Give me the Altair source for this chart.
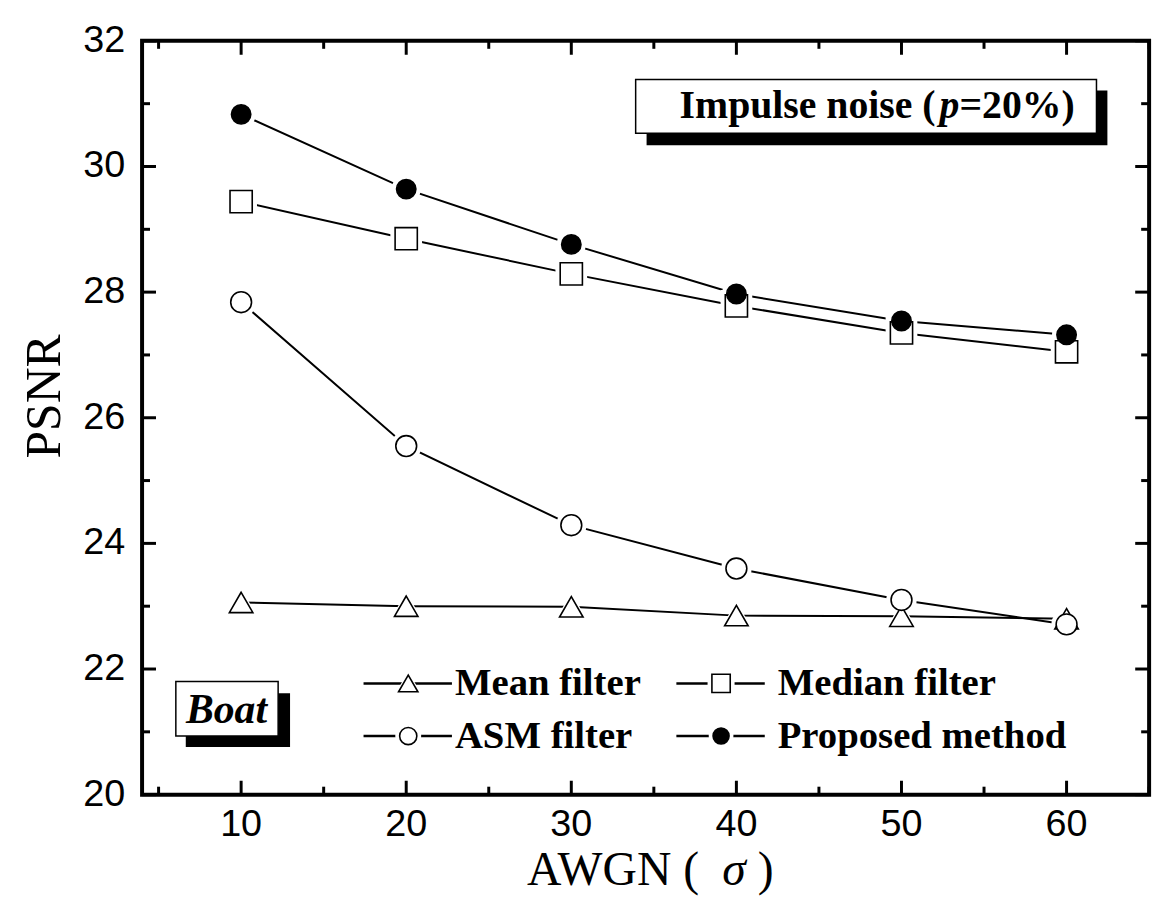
import altair as alt
import pandas as pd

# ---------------- data ----------------
sigma = [10, 20, 30, 40, 50, 60]
series = ["Mean filter", "Median filter", "ASM filter", "Proposed method"]
mean_psnr = [23.06, 23.00, 22.99, 22.85, 22.84, 22.80]
median_psnr = [29.44, 28.85, 28.29, 27.78, 27.35, 27.05]
asm_psnr = [27.84, 25.55, 24.29, 23.60, 23.10, 22.71]
proposed_psnr = [30.83, 29.64, 28.76, 27.97, 27.54, 27.32]

x_major = [10, 20, 30, 40, 50, 60]
x_minor = [5, 15, 25, 35, 45, 55, 65]
y_major = [20, 22, 24, 26, 28, 30, 32]
y_minor = [21, 23, 25, 27, 29, 31]

# ---------------- layout constants ----------------
W, H = 1014, 759
SERIF = "Liberation Serif"
SANS = "Liberation Sans"

shapes = ["triangle-up", "square", "circle", "circle"]
fills = ["white", "white", "white", "black"]
pt_sizes = [560, 380, 500, 484]
halo_sizes = [1100, 860, 1024, 1000]
leg_sizes = [380, 260, 340, 300]
leg_halo = [800, 620, 700, 660]

rows = []
for name, vals in zip(series, [mean_psnr, median_psnr, asm_psnr, proposed_psnr]):
    for s, v in zip(sigma, vals):
        rows.append({"series": name, "sigma": s, "psnr": v})
df = pd.DataFrame(rows)

xs = alt.Scale(domain=[4, 65], nice=False, zero=False)
ys = alt.Scale(domain=[20, 32], nice=False, zero=False)

shape_enc = alt.Shape("series:N", scale=alt.Scale(domain=series, range=shapes), legend=None)
fill_enc = alt.Fill("series:N", scale=alt.Scale(domain=series, range=fills), legend=None)

base = alt.Chart(df).encode(
    x=alt.X("sigma:Q", scale=xs, axis=None),
    y=alt.Y("psnr:Q", scale=ys, axis=None),
)

lines = base.mark_line(color="black", strokeWidth=2).encode(detail="series:N")
halos = base.mark_point(filled=True, opacity=1, color="white", strokeWidth=0).encode(
    shape=shape_enc,
    size=alt.Size("series:N", scale=alt.Scale(domain=series, range=halo_sizes), legend=None),
)
points = base.mark_point(filled=True, opacity=1, stroke="black", strokeWidth=1.6).encode(
    shape=shape_enc, fill=fill_enc,
    size=alt.Size("series:N", scale=alt.Scale(domain=series, range=pt_sizes), legend=None),
)

# ---------------- inward ticks and tick labels ----------------
def xticks(vals, length):
    d = pd.DataFrame({"v": vals})
    bot = alt.Chart(d).mark_rule(color="black", strokeWidth=3).encode(
        x=alt.X("v:Q", scale=xs, axis=None), y=alt.value(H), y2=alt.value(H - length))
    top = alt.Chart(d).mark_rule(color="black", strokeWidth=3).encode(
        x=alt.X("v:Q", scale=xs, axis=None), y=alt.value(0), y2=alt.value(length))
    return [bot, top]

def yticks(vals, length):
    d = pd.DataFrame({"v": vals})
    left = alt.Chart(d).mark_rule(color="black", strokeWidth=3).encode(
        y=alt.Y("v:Q", scale=ys, axis=None), x=alt.value(0), x2=alt.value(length))
    right = alt.Chart(d).mark_rule(color="black", strokeWidth=3).encode(
        y=alt.Y("v:Q", scale=ys, axis=None), x=alt.value(W), x2=alt.value(W - length))
    return [left, right]

tick_layers = xticks(x_major, 14) + xticks(x_minor, 8) + yticks(y_major, 14) + yticks(y_minor, 8)

xlab = alt.Chart(pd.DataFrame({"v": x_major})).mark_text(
    font=SANS, fontSize=38, color="black", align="center", baseline="middle").encode(
    x=alt.X("v:Q", scale=xs, axis=None), y=alt.value(H + 31), text=alt.Text("v:Q"))
ylab = alt.Chart(pd.DataFrame({"v": y_major})).mark_text(
    font=SANS, fontSize=38, color="black", align="right", baseline="middle").encode(
    y=alt.Y("v:Q", scale=ys, axis=None), x=alt.value(-17), text=alt.Text("v:Q"))

# ---------------- custom legend ----------------
col_sym = [268, 583, 268, 583]
row_y = [647, 647, 700, 700]
col_txt = [315, 640, 315, 640]
leg = pd.DataFrame({
    "series": series,
    "sx": col_sym,
    "sy": row_y,
    "lx1": [c - 45 for c in col_sym],
    "lx2": [c + 44 for c in col_sym],
    "tx": col_txt,
})
leg_line = alt.Chart(leg).mark_rule(color="black", strokeWidth=2.5).encode(
    x=alt.X("lx1:Q", scale=None, axis=None), x2="lx2:Q",
    y=alt.Y("sy:Q", scale=None, axis=None))
leg_halo_l = alt.Chart(leg).mark_point(filled=True, opacity=1, color="white", strokeWidth=0).encode(
    x=alt.X("sx:Q", scale=None, axis=None), y=alt.Y("sy:Q", scale=None, axis=None),
    shape=shape_enc,
    size=alt.Size("series:N", scale=alt.Scale(domain=series, range=leg_halo), legend=None))
leg_sym = alt.Chart(leg).mark_point(filled=True, opacity=1, stroke="black", strokeWidth=1.6).encode(
    x=alt.X("sx:Q", scale=None, axis=None), y=alt.Y("sy:Q", scale=None, axis=None),
    shape=shape_enc, fill=fill_enc,
    size=alt.Size("series:N", scale=alt.Scale(domain=series, range=leg_sizes), legend=None))
leg_text = alt.Chart(leg).mark_text(font=SERIF, fontWeight="bold", fontSize=39, align="left",
                                    baseline="middle", color="black").encode(
    x=alt.X("tx:Q", scale=None, axis=None), y=alt.Y("sy:Q", scale=None, axis=None),
    text="series:N")

# ---------------- annotations ----------------
dummy = pd.DataFrame({"k": [0]})
def rect(x1, x2, y1, y2, **kw):
    return alt.Chart(dummy).mark_rect(**kw).encode(
        x=alt.value(x1), x2=alt.value(x2), y=alt.value(y1), y2=alt.value(y2))

def txt(x, y, s, **kw):
    return alt.Chart(dummy).mark_text(color="black", **kw).encode(
        x=alt.value(x), y=alt.value(y), text=alt.value(s))

boat = [
    rect(44, 149, 657, 711, color="black"),
    rect(34, 137, 645, 700, fill="white", stroke="black", strokeWidth=1.5),
    txt(85, 674, "Boat", font=SERIF, fontWeight="bold", fontStyle="italic", fontSize=42,
        baseline="middle", align="center"),
]
impulse = [
    rect(508, 972, 50, 105, color="black"),
    rect(497, 961, 39, 93, fill="white", stroke="black", strokeWidth=1.5),
    txt(799, 66, "Impulse noise (", font=SERIF, fontWeight="bold", fontSize=40,
        baseline="middle", align="right"),
    txt(813, 66, "p", font=SERIF, fontWeight="bold", fontStyle="italic", fontSize=40,
        baseline="middle", align="center"),
    txt(823, 66, "=20%)", font=SERIF, fontWeight="bold", fontSize=40,
        baseline="middle", align="left"),
]
titles = [
    txt(561, 850, "AWGN (", font=SERIF, fontSize=48, baseline="alphabetic", align="right"),
    txt(596, 850, "σ", font=SERIF, fontStyle="italic", fontSize=48, baseline="alphabetic",
        align="center"),
    txt(620, 850, ")", font=SERIF, fontSize=48, baseline="alphabetic", align="left"),
    txt(-98, 358, "PSNR", font=SERIF, fontSize=50, baseline="middle", align="center", angle=270),
]

chart = alt.layer(
    lines, halos, points, *tick_layers, xlab, ylab,
    leg_line, leg_halo_l, leg_sym, leg_text,
    *boat, *impulse, *titles,
).resolve_scale(size="independent").properties(
    width=W, height=H,
    background="white",
    autosize=alt.AutoSizeParams(type="none"),
    padding={"left": 135, "top": 30, "right": 16, "bottom": 103},
).configure_view(stroke="black", strokeWidth=4)

chart.save("out.html", embed_options={"renderer": "svg", "actions": False})
